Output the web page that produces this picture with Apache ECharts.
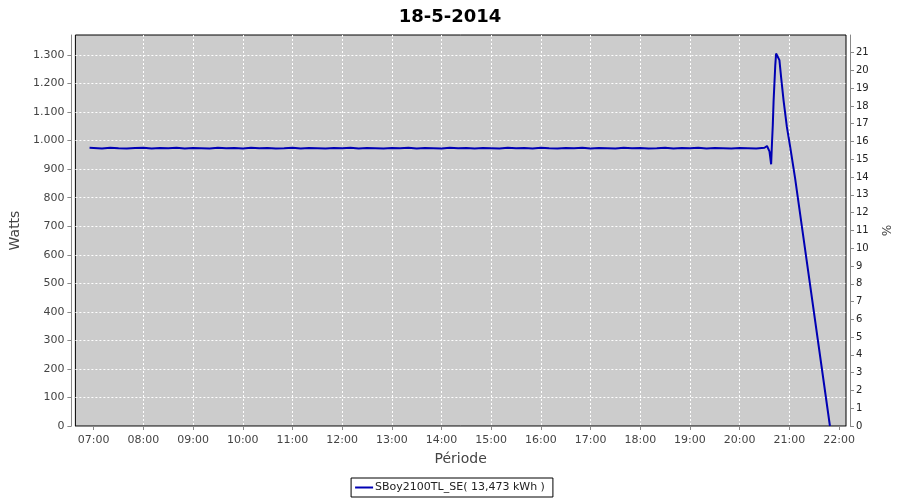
<!DOCTYPE html>
<html><head><meta charset="utf-8">
<script src="https://cdn.jsdelivr.net/npm/echarts@6/dist/echarts.min.js"></script>
<style>html,body{margin:0;padding:0;background:#fff}#c{width:900px;height:500px}</style>
</head><body><div id="c"></div>
<script>
const chartTitle = '18-5-2014';
const seriesName = 'SBoy2100TL_SE( 13,473 kWh )';
const xAxisName = 'Période';
const leftAxisName = 'Watts';
const rightAxisName = '%';
const xTickLabels = ['07:00','08:00','09:00','10:00','11:00','12:00','13:00','14:00','15:00','16:00','17:00','18:00','19:00','20:00','21:00','22:00'];

const times = [
 '06:55','07:00','07:10','07:20','07:30','07:40','07:50',
 '08:00','08:10','08:20','08:30','08:40','08:50',
 '09:00','09:10','09:20','09:30','09:40','09:50',
 '10:00','10:10','10:20','10:30','10:40','10:50',
 '11:00','11:10','11:20','11:30','11:40','11:50',
 '12:00','12:10','12:20','12:30','12:40','12:50',
 '13:00','13:10','13:20','13:30','13:40','13:50',
 '14:00','14:10','14:20','14:30','14:40','14:50',
 '15:00','15:10','15:20','15:30','15:40','15:50',
 '16:00','16:10','16:20','16:30','16:40','16:50',
 '17:00','17:10','17:20','17:30','17:40','17:50',
 '18:00','18:10','18:20','18:30','18:40','18:50',
 '19:00','19:10','19:20','19:30','19:40','19:50',
 '20:00','20:10','20:20','20:30',
 '20:33','20:36','20:38','20:39','20:40','20:41','20:43','20:44','20:46','20:48','20:50','20:53','20:57','21:01','21:07','21:49'
];
const watts = [
 975,974,972,975,973,972,974,
 975,972,974,973,975,972,
 974,973,972,975,973,974,
 972,975,973,974,972,973,
 975,972,974,973,972,974,
 973,975,972,974,973,972,
 974,973,975,972,974,973,
 972,975,973,974,972,974,
 973,972,975,973,974,972,
 975,973,972,974,973,975,
 972,974,973,972,975,973,
 974,972,973,975,972,974,
 973,975,972,974,973,972,
 974,973,972,975,
 981,962,917,990,1054,1141,1264,1305,1305,1282,1223,1141,1048,978,867,0
];

function toHours(s){ const p = s.split(':'); return +p[0] + (+p[1])/60; }
function fmtThousands(v){
  if (v >= 1000) return Math.floor(v/1000) + '.' + String(v % 1000).padStart(3,'0');
  return String(v);
}
function fmtHour(v){ const h = Math.round(v); return (h<10?'0':'') + h + ':00'; }

const seriesData = times.map((t,i) => [toHours(t), watts[i]]);
const xTickValues = xTickLabels.map(toHours);

const FONT = 'DejaVu Sans';
const AX = '#888888';
const TXT = '#444444';

const chart = echarts.init(document.getElementById('c'), null, {renderer:'canvas'});
chart.setOption({
  animation: false,
  backgroundColor: '#ffffff',
  title: {
    text: chartTitle, left: 'center', top: 3,
    textStyle: {fontFamily: FONT, fontSize: 18, fontWeight: 'bold', color: '#000'}
  },
  grid: {
    left: 75, right: 54, top: 35, bottom: 74,
    show: true, backgroundColor: '#cccccc', borderColor: '#000', borderWidth: 1
  },
  xAxis: {
    type: 'value', min: 6.632, max: 22.14, offset: 4,
    name: xAxisName, nameLocation: 'middle', nameGap: 22,
    nameTextStyle: {fontFamily: FONT, fontSize: 14, color: TXT},
    axisLine: {show: true, lineStyle: {color: AX}},
    axisTick: {show: true, length: 4, customValues: xTickValues, lineStyle: {color: AX}},
    axisLabel: {customValues: xTickValues, formatter: fmtHour, fontFamily: FONT, fontSize: 11, color: TXT, margin: 5},
    splitLine: {show: true, showMinLine: false, showMaxLine: false, lineStyle: {color: '#ffffff', type: [2,2], width: 1}}
  },
  yAxis: [{
    type: 'value', min: 0, max: 1370, interval: 100, offset: 4, position: 'left',
    name: leftAxisName, nameLocation: 'middle', nameGap: 47, nameRotate: 90,
    nameTextStyle: {fontFamily: FONT, fontSize: 14, color: TXT},
    axisLine: {show: true, lineStyle: {color: AX}},
    axisTick: {show: true, length: 4, lineStyle: {color: AX}},
    axisLabel: {formatter: fmtThousands, showMaxLabel: false, fontFamily: FONT, fontSize: 11, color: TXT, margin: 7},
    splitLine: {show: true, showMinLine: false, showMaxLine: false, lineStyle: {color: '#ffffff', type: [2,2], width: 1}}
  }, {
    type: 'value', min: 0, max: 21.99, interval: 1, offset: 4, position: 'right',
    name: rightAxisName, nameLocation: 'middle', nameGap: 20, nameRotate: -90,
    nameTextStyle: {fontFamily: FONT, fontSize: 12, color: TXT},
    axisLine: {show: true, lineStyle: {color: AX}},
    axisTick: {show: true, length: 4, lineStyle: {color: AX}},
    axisLabel: {showMaxLabel: false, fontFamily: FONT, fontSize: 10, color: '#222', margin: 6},
    splitLine: {show: false}
  }],
  legend: {
    bottom: 3, left: 'center',
    data: [seriesName],
    icon: 'rect', itemWidth: 18, itemHeight: 2, itemGap: 0,
    borderColor: '#000', borderWidth: 1, padding: [4, 8, 4, 4],
    textStyle: {fontFamily: FONT, fontSize: 11, color: '#222', padding: [0,0,0,-3]}
  },
  series: [{
    name: seriesName, type: 'line', data: seriesData, yAxisIndex: 0,
    showSymbol: false, symbol: 'none',
    lineStyle: {color: '#0000b4', width: 2},
    itemStyle: {color: '#0000b4'}
  }]
});
</script>
</body></html>
